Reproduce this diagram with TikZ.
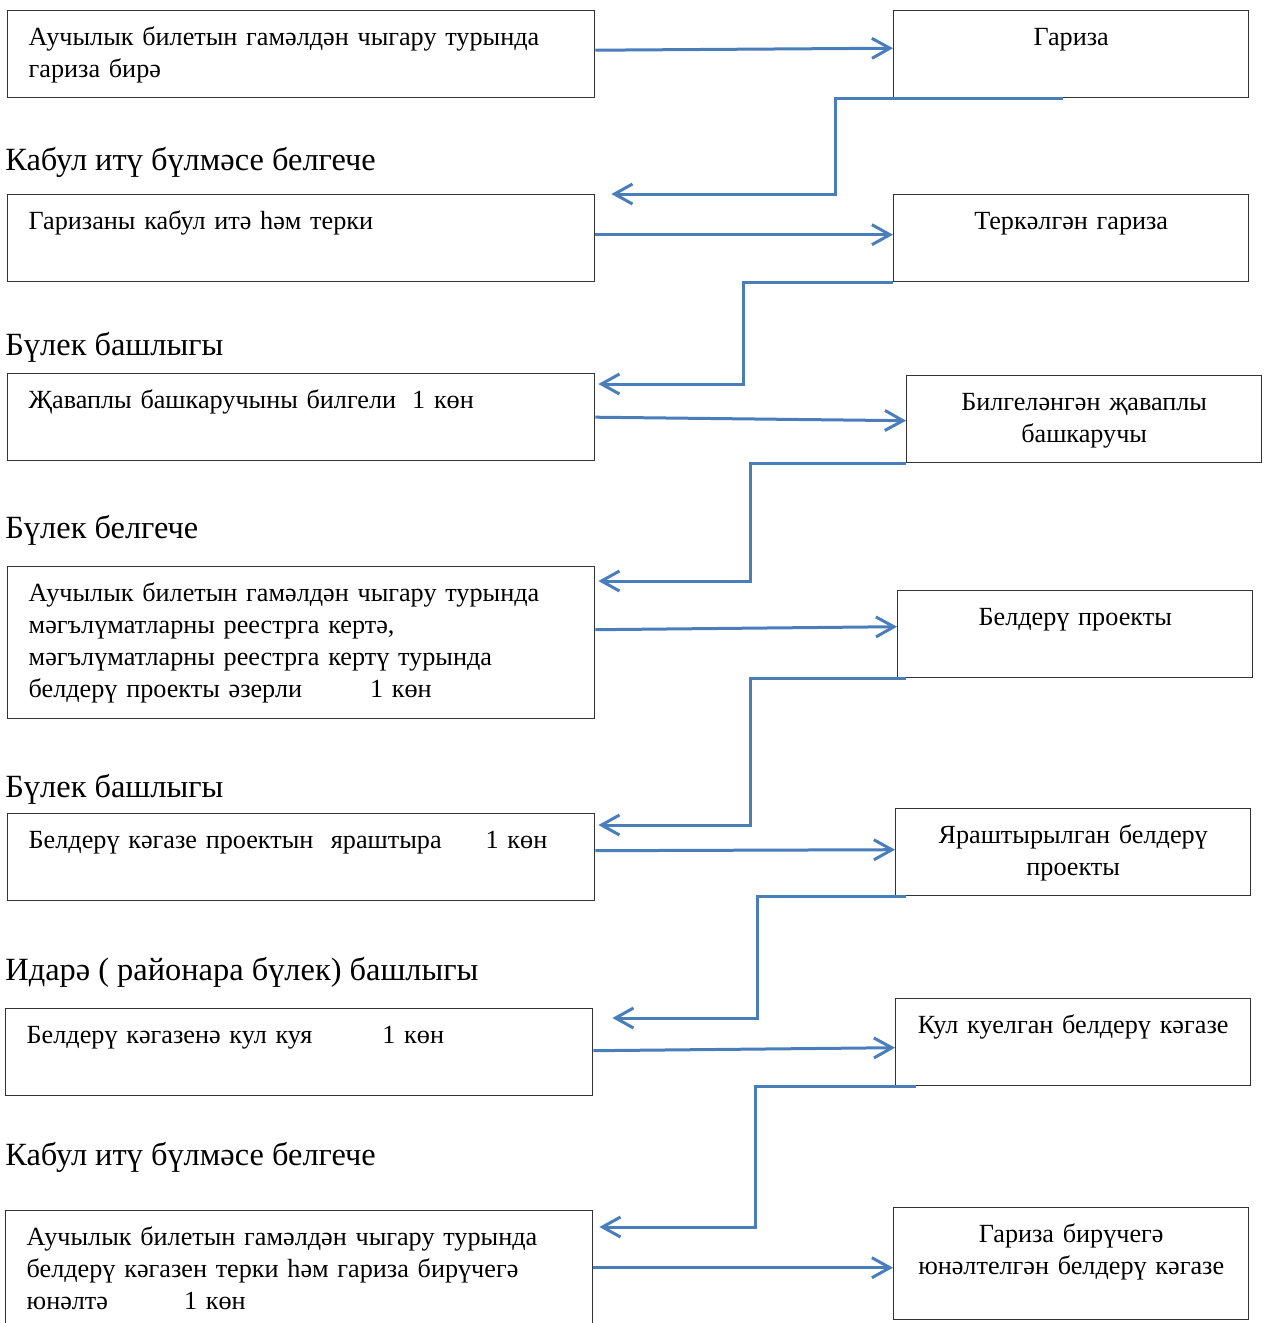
\documentclass[tikz,border=0pt]{standalone}
\usepackage{fontspec}
\setmainfont{Liberation Serif}
\usepackage{tikz}
\usetikzlibrary{positioning, calc, arrows.meta}
\definecolor{flowblue}{RGB}{74,126,187}
\tikzstyle{Flow} = [
    flowblue,
    line width = 1.5pt,
    -{Straight Barb[length=9pt, width=10pt, line width=1.5pt]}
]

\begin{document}
\begin{tikzpicture}[
x = 0.5pt, y = -0.5pt,
act/.style = {
    draw = black!80,
    line width = 0.7pt,
    anchor = north west,
    align = left,
    text width = 272.5pt,
    inner xsep = 10.5pt,
    inner ysep = 0pt,
    text height = 17.6pt,
    text depth = #1-17.6pt,
    font = \fontsize{13.1}{16}\selectfont
    },
act/.default = 43.5pt,
doc/.style = {
    act = #1,
    align = center,
    text width = 167.5pt,
    inner xsep = 5pt
    },
doc/.default = 43.5pt,
who/.style = {
    anchor = base west,
    inner sep = 0pt,
    font = \fontsize{16.2}{19}\selectfont
    }
]
\useasboundingbox (0,0) rectangle (1266,1323);

% actions
\node [act] (a1) at (7,10) {Аучылык билетын гамәлдән чыгару турында\\гариза бирә};
\node [act] (a2) at (7,194) {Гаризаны кабул итә һәм терки};
\node [act] (a3) at (7,373) {Җаваплы башкаручыны билгели\hspace{8pt}1 көн};
\node [act=76pt] (a4) at (7,566) {Аучылык билетын гамәлдән чыгару турында\\мәгълүматларны реестрга кертә,\\мәгълүматларны реестрга кертү турында\\белдерү проекты әзерли\hspace{34pt}1 көн};
\node [act] (a5) at (7,813) {Белдерү кәгазе проектын\ \ яраштыра\hspace{22pt}1 көн};
\node [act] (a6) at (5,1008) {Белдерү кәгазенә кул куя\hspace{35pt}1 көн};
\node [act=62.5pt] (a7) at (5,1210) {Аучылык билетын гамәлдән чыгару турында\\белдерү кәгазен терки һәм гариза бирүчегә\\юнәлтә\hspace{38pt}1 көн};

% documents
\node [doc] (d1) at (893,10) {Гариза};
\node [doc] (d2) at (893,194) {Теркәлгән гариза};
\node [doc] (d3) at (906,375) {Билгеләнгән җаваплы\\башкаручы};
\node [doc] (d4) at (897,590) {Белдерү проекты};
\node [doc] (d5) at (895,808) {Яраштырылган белдерү\\проекты};
\node [doc] (d6) at (895,998) {Кул куелган белдерү кәгазе};
\node [doc=56pt] (d7) at (893,1207) {Гариза бирүчегә\\юнәлтелгән белдерү кәгазе};

% performers
\node [who] (p1) at (5,170) {Кабул итү бүлмәсе белгече};
\node [who] (p2) at (5,355) {Бүлек башлыгы};
\node [who] (p3) at (5,538) {Бүлек белгече};
\node [who] (p4) at (5,797) {Бүлек башлыгы};
\node [who] (p5) at (5,980) {Идарә ( районара бүлек) башлыгы};
\node [who] (p6) at (5,1165) {Кабул итү бүлмәсе белгече};

\draw[Flow] ([yshift=2pt]a1.east) -- ([yshift=3pt]d1.west);
\draw[Flow] ([yshift=1.75pt]a2.east) -- ([yshift=1.75pt]d2.west);
\draw[Flow] (a3.east) -- ([yshift=-0.75pt]d3.west);
\draw[Flow] ([yshift=6.5pt]a4.east) -- ([yshift=3.75pt]d4.west);
\draw[Flow] ([yshift=3.25pt]a5.east) -- ([yshift=1.25pt]d5.west);
\draw[Flow] ([yshift=0.75pt]a6.east) -- ([yshift=-2.75pt]d6.west);
\draw[Flow] ([yshift=2.75pt]a7.east) -- ([yshift=-2pt]d7.west);

\draw[Flow] ([xshift=85pt]d1.south west) -| (835,194) -- ([xshift=8pt]a2.north east);
\draw[Flow] (d2.south west) -| (743,384) -- ([xshift=1.5pt,yshift=-5.5pt]a3.north east);
\draw[Flow] (d3.south west) -| (750,581) -- ([xshift=1.5pt,yshift=-7.5pt]a4.north east);
\draw[Flow] ([xshift=4.5pt]d4.south west) -| (750,825) -- ([xshift=1.5pt,yshift=-6pt]a5.north east);
\draw[Flow] ([xshift=5.5pt]d5.south west) -| (757,1018) -- ([xshift=9.5pt,yshift=-5pt]a6.north east);
\draw[Flow] ([xshift=10.5pt]d6.south west) -| (755,1227) -- ([xshift=3pt,yshift=-8.5pt]a7.north east);

\end{tikzpicture}
\end{document}
